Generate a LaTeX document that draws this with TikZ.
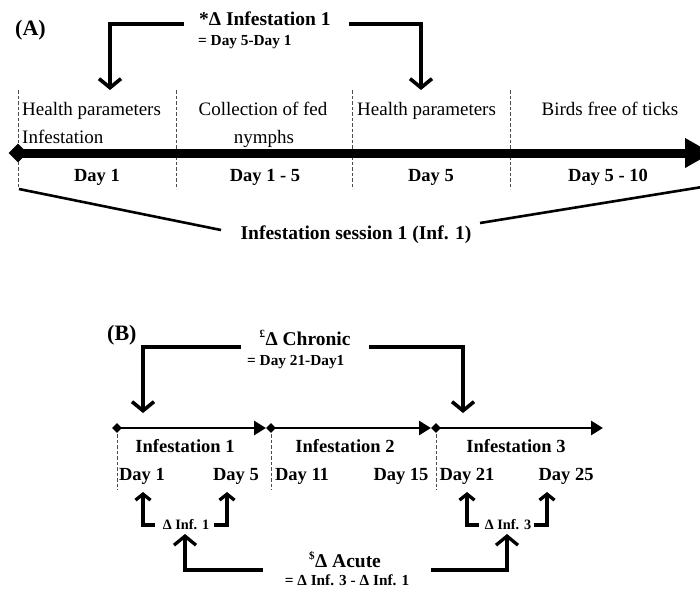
\documentclass[tikz,border=0pt]{standalone}
\usepackage{fontspec}
\setmainfont{Liberation Serif}
\usetikzlibrary{arrows.meta,shapes.geometric}
\begin{document}
\begin{tikzpicture}[x=1pt,y=-1pt,
  reg/.style={font=\fontsize{19}{22}\selectfont, inner sep=0pt},
  bd/.style={font=\bfseries\fontsize{18.5}{22}\selectfont, inner sep=0pt},
  ttl/.style={font=\bfseries\fontsize{19.5}{22}\selectfont, inner sep=0pt},
  lab/.style={font=\bfseries\fontsize{22}{24}\selectfont, inner sep=0pt},
  sm/.style={font=\bfseries\fontsize{14.3}{17}\selectfont, inner sep=0pt},
  eq/.style={font=\bfseries\fontsize{15.3}{17}\selectfont, inner sep=0pt},
  brk/.style={line width=3.6pt, -{Straight Barb[length=9pt,width=22pt]}},
  hook/.style={line width=3.3pt, -{Straight Barb[length=6pt,width=15pt]}},
  tline/.style={line width=2.8pt, -{Triangle[length=12pt,width=14pt]}},
  sep/.style={draw=black!70, line width=1pt, dash pattern=on 3.5pt off 2pt},
  dia/.style={diamond, fill=black, inner sep=0pt},
  brace/.style={line width=2.6pt}
]
\useasboundingbox (0,0) rectangle (700,590);
\clip (0,0) rectangle (700,590);

% ================= Panel A =================
\node[lab, anchor=base west] (labA) at (15,35) {(A)};
\node[ttl, anchor=base west] (dinf) at (199,25) {*Δ Infestation 1};
\node[eq, anchor=base west] (dinfeq) at (198,45) {= Day 5-Day 1};

\coordinate (aL) at (184,24);
\coordinate (aR) at (349,24);
\coordinate (tA1) at (110,90);
\coordinate (tA2) at (421,90);
\draw[brk] (aL) -| (tA1);
\draw[brk] (aR) -| (tA2);

% separators
\foreach \x/\n in {18/s1,176/s2,352/s3,510/s4}{
  \coordinate (\n t) at (\x,90);
  \coordinate (\n b) at (\x,189);
  \draw[sep] (\n t) -- (\n b);
}

\node[reg, anchor=base west] (hp1) at (22,115) {Health parameters};
\node[reg, anchor=base west] (inf) at (22,143) {Infestation};
\node[reg, anchor=base] (col) at (263,115) {Collection of fed};
\node[reg, anchor=base] (nym) at (264,143) {nymphs};
\node[reg, anchor=base west] (hp2) at (357,115) {Health parameters};
\node[reg, anchor=base] (birds) at (610,115) {Birds free of ticks};

% thick timeline
\node[dia, minimum width=19pt, minimum height=19pt] (dA) at (18,153) {};
\coordinate (endA) at (712,153);
\draw[line width=9pt, -{Triangle[length=27pt,width=28pt]}] (dA.center) -- (endA);

\node[bd, anchor=base] (d1) at (97,181) {Day 1};
\node[bd, anchor=base] (d15) at (265,181) {Day 1 - 5};
\node[bd, anchor=base] (d5) at (431,181) {Day 5};
\node[bd, anchor=base] (d510) at (608,181) {Day 5 - 10};

\node[ttl, anchor=base] (sess) at (356,239) {Infestation session 1 (Inf. 1)};
\coordinate (bL1) at (19,189);
\coordinate (bL2) at (221,230);
\coordinate (bR1) at (480,223);
\coordinate (bR2) at (702,187);
\draw[brace] (bL1) -- (bL2);
\draw[brace] (bR1) -- (bR2);

% ================= Panel B =================
\node[lab, anchor=base west] (labB) at (107,340) {(B)};
\node[ttl, anchor=base] (chr) at (305,345) {\textsuperscript{\fontsize{11}{12}\selectfont £}Δ Chronic};
\node[eq, anchor=base west] (chreq) at (247,365) {= Day 21-Day1};

\coordinate (cL) at (241,347);
\coordinate (cR) at (369,347);
\coordinate (tC1) at (143,413);
\coordinate (tC2) at (463,413);
\draw[brk] (cL) -| (tC1);
\draw[brk] (cR) -| (tC2);

% timeline segments
\node[dia, minimum width=10pt, minimum height=10pt] (p1) at (117,428) {};
\node[dia, minimum width=10pt, minimum height=10pt] (p2) at (271,428) {};
\node[dia, minimum width=10pt, minimum height=10pt] (p3) at (436,428) {};
\coordinate (e1) at (266,428);
\coordinate (e2) at (431,428);
\coordinate (e3) at (603,428);
\draw[tline] (p1.center) -- (e1);
\draw[tline] (p2.center) -- (e2);
\draw[tline] (p3.center) -- (e3);

\foreach \x/\n in {117/q1,271/q2,436/q3}{
  \coordinate (\n t) at (\x,434);
  \coordinate (\n b) at (\x,490);
  \draw[sep] (\n t) -- (\n b);
}

\node[bd, anchor=base] (i1) at (185,452) {Infestation 1};
\node[bd, anchor=base] (i2) at (345,452) {Infestation 2};
\node[bd, anchor=base] (i3) at (516,452) {Infestation 3};

\node[bd, anchor=base] (b1) at (142,480) {Day 1};
\node[bd, anchor=base] (b5) at (236,480) {Day 5};
\node[bd, anchor=base] (b11) at (302,480) {Day 11};
\node[bd, anchor=base] (b15) at (401,480) {Day 15};
\node[bd, anchor=base] (b21) at (467,480) {Day 21};
\node[bd, anchor=base] (b25) at (566,480) {Day 25};

% delta inf hooks
\node[sm, anchor=base] (di1) at (186,529) {Δ Inf. 1};
\node[sm, anchor=base] (di3) at (508,529) {Δ Inf. 3};
\coordinate (h1a) at (155,525); \coordinate (h1t) at (143,492);
\coordinate (h2a) at (214,525); \coordinate (h2t) at (227,492);
\coordinate (h3a) at (479,525); \coordinate (h3t) at (467,492);
\coordinate (h4a) at (534,525); \coordinate (h4t) at (547,492);
\draw[hook] (h1a) -| (h1t);
\draw[hook] (h2a) -| (h2t);
\draw[hook] (h3a) -| (h3t);
\draw[hook] (h4a) -| (h4t);

% acute
\node[ttl, anchor=base] (acu) at (345,567) {\textsuperscript{\fontsize{11}{12}\selectfont \$}Δ Acute};
\node[eq, anchor=base] (acueq) at (347,585) {= Δ Inf. 3 - Δ Inf. 1};
\coordinate (aa1) at (263,570); \coordinate (aat1) at (185,534);
\coordinate (aa2) at (431,570); \coordinate (aat2) at (507,534);
\draw[brk, line width=3.3pt] (aa1) -| (aat1);
\draw[brk, line width=3.3pt] (aa2) -| (aat2);
\end{tikzpicture}
\end{document}
